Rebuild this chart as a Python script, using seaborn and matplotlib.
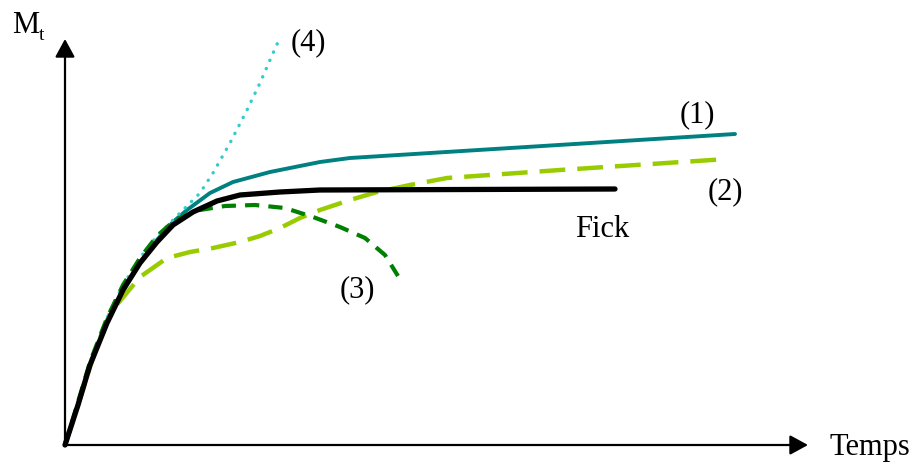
import matplotlib
matplotlib.use("Agg")
import matplotlib.pyplot as plt
import seaborn as sns

# values: time t and uptake M (arbitrary units, origin at the axes corner)
fick_t = [0, 13, 25, 42, 58, 75, 92, 108, 128, 152, 175, 215, 255, 550]
fick_m = [0, 40, 80, 122, 155, 182, 203, 220, 233, 244, 250, 253, 255, 256]

c1_t = [0, 13, 25, 42, 58, 75, 92, 108, 122, 145, 168, 205, 255, 285, 670]
c1_m = [0, 40, 80, 122, 155, 182, 205, 223, 235, 252, 263, 273, 283, 287, 311]

c2_t = [0, 13, 25, 35, 45, 60, 75, 102, 125, 148, 175, 195, 215, 235, 255, 285, 312, 345, 382, 495, 662]
c2_m = [0, 40, 78, 107, 132, 150, 168, 187, 193, 197, 203, 209, 217, 227, 235, 245, 253, 260, 267, 275, 286]

c3_t = [0, 13, 25, 42, 58, 75, 92, 110, 135, 160, 190, 220, 248, 275, 300, 320, 333]
c3_m = [0, 43, 83, 127, 160, 187, 209, 225, 235, 239, 240, 237, 228, 218, 207, 190, 169]

c4_t = [0, 13, 25, 42, 58, 75, 92, 108, 125, 135, 148, 165, 182, 195, 205, 213]
c4_m = [0, 43, 83, 127, 160, 187, 209, 225, 242, 252, 272, 302, 335, 362, 385, 403]

sns.set_style("white")
plt.rcParams['font.family'] = ['Liberation Serif', 'DejaVu Serif']
plt.rcParams['text.color'] = 'black'

fig = plt.figure(figsize=(9.17, 4.63), dpi=100)
ax = fig.add_axes([0, 0, 1, 1])
ax.set_xlim(-65, 852)
ax.set_ylim(-18, 445)
ax.axis("off")

# axes with arrow heads
arrow = dict(arrowstyle="-|>,head_length=0.55,head_width=0.3", color="black",
             lw=1.6, shrinkA=0, shrinkB=0, mutation_scale=20)
ax.annotate("", xy=(743, 0), xytext=(0, 0), arrowprops=arrow)
ax.annotate("", xy=(0, 406), xytext=(0, 0), arrowprops=arrow)

sns.lineplot(x=c2_t, y=c2_m, ax=ax, color="#99cc00", linewidth=3.2,
             linestyle=(0, (5.8, 2.7)))
sns.lineplot(x=c1_t, y=c1_m, ax=ax, color="#008080", linewidth=2.8)
sns.lineplot(x=c4_t, y=c4_m, ax=ax, color="#33cccc", linewidth=2.4,
             linestyle=(0, (0.1, 2.6)), dash_capstyle="round")
sns.lineplot(x=c3_t, y=c3_m, ax=ax, color="#008000", linewidth=3.0,
             linestyle=(0, (3.4, 2.2)))
sns.lineplot(x=fick_t, y=fick_m, ax=ax, color="black", linewidth=3.8)

fs = 22
ax.text(-53, 412, "M", fontsize=fs, ha="left", va="baseline", color="black")
ax.text(-26, 405, "t", fontsize=14, ha="left", va="baseline", color="black")
ax.text(765, -10, "Temps", fontsize=fs, ha="left", va="baseline", color="black")
ax.text(226, 402, "(4)", fontsize=fs, ha="left", va="center", color="black")
ax.text(615, 330, "(1)", fontsize=fs, ha="left", va="center", color="black")
ax.text(643, 253, "(2)", fontsize=fs, ha="left", va="center", color="black")
ax.text(510, 208, "Fick", fontsize=fs, ha="left", va="baseline", color="black")
ax.text(275, 155, "(3)", fontsize=fs, ha="left", va="center", color="black")

fig.savefig("out.png", dpi=100)
